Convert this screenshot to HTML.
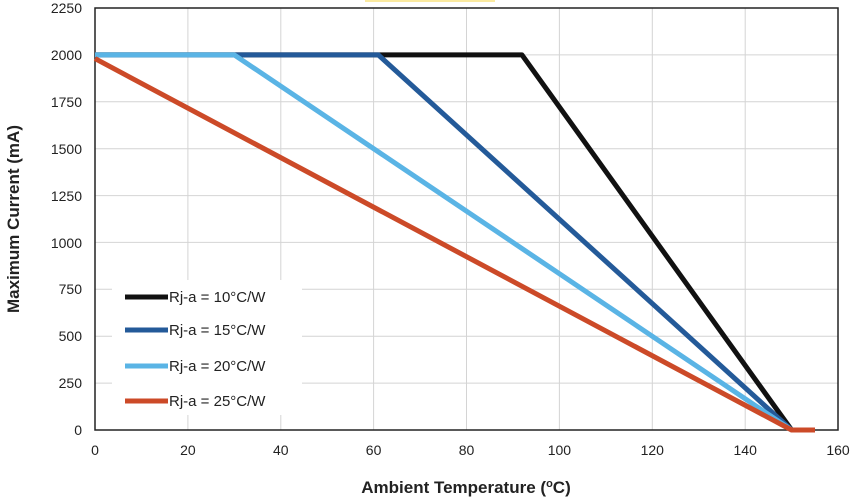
<!DOCTYPE html>
<html><head><style>
body{margin:0;background:#fff}
svg{display:block;font-family:"Liberation Sans",sans-serif}
</style></head><body>
<svg width="854" height="498" xmlns="http://www.w3.org/2000/svg">
<rect width="854" height="498" fill="#fff"/>
<rect x="365" y="0" width="130" height="2" fill="#fbeaa0"/>
<g stroke="#d4d4d4" stroke-width="1">
<line x1="187.9" y1="8" x2="187.9" y2="430"/><line x1="280.8" y1="8" x2="280.8" y2="430"/>
<line x1="373.6" y1="8" x2="373.6" y2="430"/><line x1="466.5" y1="8" x2="466.5" y2="430"/>
<line x1="559.4" y1="8" x2="559.4" y2="430"/><line x1="652.3" y1="8" x2="652.3" y2="430"/>
<line x1="745.2" y1="8" x2="745.2" y2="430"/>
<line x1="95" y1="383.1" x2="838" y2="383.1"/><line x1="95" y1="336.2" x2="838" y2="336.2"/>
<line x1="95" y1="289.3" x2="838" y2="289.3"/><line x1="95" y1="242.4" x2="838" y2="242.4"/>
<line x1="95" y1="195.6" x2="838" y2="195.6"/><line x1="95" y1="148.7" x2="838" y2="148.7"/>
<line x1="95" y1="101.8" x2="838" y2="101.8"/><line x1="95" y1="54.9" x2="838" y2="54.9"/>
</g>
<rect x="95" y="8" width="743" height="422" fill="none" stroke="#222" stroke-width="1.5"/>
<g fill="none" stroke-width="5" stroke-linejoin="round">
<polyline stroke="#111" points="95,54.9 522,54.9 791.6,430"/>
<polyline stroke="#245a99" points="95,54.9 378.3,54.9 791.6,430"/>
<polyline stroke="#5ab4e5" points="95,54.9 234.3,54.9 791.6,430"/>
<polyline stroke="#cc4a28" points="95,58.6 791.6,430 815,430"/>
</g>
<rect x="112" y="280" width="190" height="135" fill="#fff"/>
<g stroke-width="5">
<line x1="125" y1="297" x2="168" y2="297" stroke="#111"/>
<line x1="125" y1="330" x2="168" y2="330" stroke="#245a99"/>
<line x1="125" y1="366" x2="168" y2="366" stroke="#5ab4e5"/>
<line x1="125" y1="401" x2="168" y2="401" stroke="#cc4a28"/>
</g>
<g font-size="15" fill="#222">
<text x="169" y="302">Rj-a = 10°C/W</text>
<text x="169" y="335">Rj-a = 15°C/W</text>
<text x="169" y="371">Rj-a = 20°C/W</text>
<text x="169" y="406">Rj-a = 25°C/W</text>
</g>
<g font-size="14" fill="#222" text-anchor="end">
<text x="82" y="13">2250</text><text x="82" y="60">2000</text><text x="82" y="107">1750</text>
<text x="82" y="154">1500</text><text x="82" y="201">1250</text><text x="82" y="248">1000</text>
<text x="82" y="294">750</text><text x="82" y="341">500</text><text x="82" y="388">250</text>
<text x="82" y="435">0</text>
</g>
<g font-size="14" fill="#222" text-anchor="middle">
<text x="95" y="455">0</text><text x="187.9" y="455">20</text><text x="280.8" y="455">40</text>
<text x="373.6" y="455">60</text><text x="466.5" y="455">80</text><text x="559.4" y="455">100</text>
<text x="652.3" y="455">120</text><text x="745.2" y="455">140</text><text x="838" y="455">160</text>
</g>
<text x="466" y="493" font-size="17" font-weight="bold" fill="#222" text-anchor="middle">Ambient Temperature (<tspan font-size="11" dy="-6">o</tspan><tspan dy="6">C)</tspan></text>
<text transform="translate(19,219) rotate(-90)" font-size="17" font-weight="bold" fill="#222" text-anchor="middle">Maximum Current (mA)</text>
</svg>
</body></html>
